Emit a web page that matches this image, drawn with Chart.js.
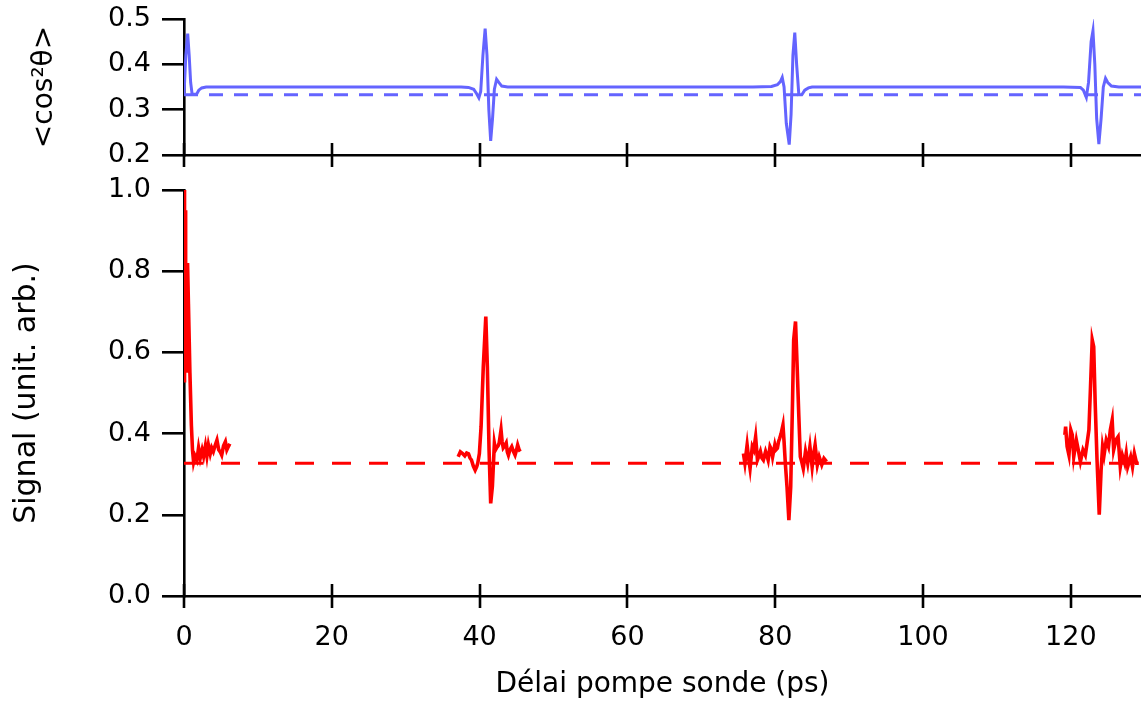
<!DOCTYPE html>
<html>
<head>
<meta charset="utf-8">
<script src="https://cdn.jsdelivr.net/npm/chart.js@4.4.1/dist/chart.umd.min.js"></script>
<style>
  html, body { margin: 0; padding: 0; background: #fff; }
  #wrap { position: relative; width: 1141px; height: 706px; }
  #cosChart { position: absolute; left: 0; top: 0; }
  #sigChart { position: absolute; left: 0; top: 175px; }
</style>
</head>
<body>
<div id="wrap">
  <canvas id="cosChart" width="1141" height="175"></canvas>
  <canvas id="sigChart" width="1141" height="531"></canvas>
</div>
<script>
// <cos^2 theta> (simulation), delay in ps
const cosT = [0, 0.25, 0.5, 0.7, 0.9, 1.1, 1.7, 2.0, 2.4, 3.0,
  37.5, 38.5, 39.2, 39.6, 39.9, 40.15, 40.45, 40.75, 41.0, 41.25, 41.5, 41.75, 42.0, 42.3, 42.6, 43.0, 43.8,
  77, 79.5, 80.3, 80.7, 80.95, 81.2, 81.5, 81.9, 82.15, 82.4, 82.65, 82.9, 83.2, 83.6, 84.0, 84.5, 85,
  119, 121.3, 121.7, 122.1, 122.4, 122.75, 123.0, 123.25, 123.5, 123.8, 124.1, 124.4, 124.7, 125.0, 125.5, 126.5, 129.5];
const cosV = [0.333, 0.42, 0.468, 0.42, 0.36, 0.334, 0.334, 0.343, 0.348, 0.35,
  0.35, 0.349, 0.345, 0.335, 0.326, 0.34, 0.42, 0.479, 0.42, 0.30, 0.231, 0.28, 0.345, 0.367, 0.36, 0.352, 0.35,
  0.35, 0.351, 0.355, 0.362, 0.371, 0.35, 0.27, 0.223, 0.29, 0.42, 0.47, 0.40, 0.333, 0.333, 0.343, 0.348, 0.35,
  0.35, 0.349, 0.343, 0.327, 0.36, 0.45, 0.474, 0.40, 0.28, 0.224, 0.28, 0.35, 0.369, 0.36, 0.352, 0.35, 0.35];
const cosIso = 0.333;

// measured signal, four scans around each revival
const sigT1 = [0.0, 0.04, 0.1, 0.16, 0.22, 0.3, 0.38, 0.48, 0.6, 0.8, 1.0, 1.15, 1.3, 1.5, 1.75, 1.97, 2.2, 2.45, 2.65,
  2.9, 3.1, 3.3, 3.55, 3.75, 3.97, 4.2, 4.46, 4.7, 4.9, 5.1, 5.35, 5.6, 5.8, 6.0, 6.2];
const sigV1 = [0.53, 1.0, 0.53, 0.95, 0.6, 0.82, 0.55, 0.82, 0.72, 0.55, 0.42, 0.36, 0.33, 0.345, 0.335, 0.365, 0.34, 0.36, 0.344,
  0.37, 0.345, 0.372, 0.35, 0.365, 0.356, 0.37, 0.384, 0.36, 0.355, 0.347, 0.37, 0.38, 0.36, 0.368, 0.375];
const sigT2 = [37.1, 37.4, 37.7, 38.0, 38.25, 38.5, 38.7, 38.9, 39.15, 39.4, 39.6, 39.75, 39.97, 40.2, 40.5, 40.84, 41.05, 41.28,
  41.5, 41.73, 42.0, 42.15, 42.3, 42.5, 42.65, 42.9, 43.05, 43.2, 43.4, 43.6, 43.75, 43.9, 44.1, 44.35, 44.6, 44.8, 45.0, 45.15, 45.35, 45.5];
const sigV2 = [0.343, 0.355, 0.351, 0.345, 0.352, 0.35, 0.34, 0.335, 0.32, 0.31, 0.318, 0.327, 0.351, 0.417, 0.565, 0.688, 0.565, 0.36,
  0.228, 0.27, 0.376, 0.36, 0.365, 0.37, 0.377, 0.409, 0.38, 0.365, 0.37, 0.377, 0.355, 0.347, 0.36, 0.368, 0.355, 0.347, 0.36, 0.372, 0.36, 0.356];
const sigT3 = [75.7, 75.9, 76.2, 76.4, 76.6, 76.9, 77.1, 77.35, 77.6, 77.8, 78.0, 78.2, 78.4, 78.7, 78.9, 79.05, 79.3, 79.5, 79.65,
  79.95, 80.1, 80.3, 80.45, 80.6, 80.8, 81.05, 81.2, 81.37, 81.6, 81.85, 82.1, 82.35, 82.5, 82.75, 82.97, 83.2, 83.4, 83.6, 83.8,
  84.1, 84.4, 84.7, 85.0, 85.2, 85.4, 85.7, 85.95, 86.3, 86.6, 86.95];
const sigV3 = [0.351, 0.327, 0.372, 0.34, 0.314, 0.368, 0.36, 0.392, 0.335, 0.345, 0.356, 0.34, 0.335, 0.356, 0.345, 0.335, 0.368, 0.36, 0.343,
  0.372, 0.36, 0.364, 0.38, 0.388, 0.40, 0.421, 0.38, 0.327, 0.269, 0.187, 0.269, 0.483, 0.631, 0.676, 0.565, 0.442, 0.343, 0.33, 0.314,
  0.356, 0.327, 0.368, 0.318, 0.35, 0.372, 0.323, 0.343, 0.323, 0.339, 0.331];
const sigT4 = [119.2, 119.3, 119.5, 119.75, 120.0, 120.2, 120.4, 120.75, 121.05, 121.3, 121.65, 121.97, 122.2, 122.45, 122.67, 122.9,
  123.1, 123.3, 123.55, 123.85, 124.1, 124.3, 124.5, 124.8, 125.1, 125.35, 125.6, 125.8, 126.1, 126.4, 126.7, 126.97, 127.3,
  127.5, 127.7, 128.1, 128.35, 128.6, 128.9, 129.2];
const sigV4 = [0.397, 0.417, 0.368, 0.347, 0.409, 0.397, 0.343, 0.384, 0.356, 0.331, 0.36, 0.347, 0.376, 0.409, 0.516, 0.631,
  0.614, 0.475, 0.335, 0.2, 0.31, 0.368, 0.347, 0.384, 0.368, 0.409, 0.433, 0.36, 0.384, 0.392, 0.318, 0.347, 0.327,
  0.351, 0.318, 0.343, 0.318, 0.351, 0.327, 0.327];
const sigBase = 0.327;

const xTicks = [0, 20, 40, 60, 80, 100, 120];
const cosTicks = [0.2, 0.3, 0.4, 0.5];
const sigTicks = [0, 0.2, 0.4, 0.6, 0.8, 1.0];
const xMin = 0, xMax = 129.5;

const FONT = "'DejaVu Sans', 'Liberation Sans', Arial, sans-serif";
const BLUE = '#6464ff';
const RED = '#ff0000';

function pts(t, v) { return t.map((x, i) => ({ x: x, y: v[i] })); }

// segments joined with a gap so the line breaks between scans
const sigData = [].concat(
  pts(sigT1, sigV1), [{ x: 20, y: null }],
  pts(sigT2, sigV2), [{ x: 60, y: null }],
  pts(sigT3, sigV3), [{ x: 100, y: null }],
  pts(sigT4, sigV4)
);

// x ticks that cross the axis line
const crossTicks = {
  id: 'crossTicks',
  afterDraw(chart) {
    const xs = chart.scales.x;
    const y0 = chart.chartArea.bottom;
    const c = chart.ctx;
    c.save();
    c.strokeStyle = '#000';
    c.lineWidth = 2.6;
    xs.ticks.forEach(t => {
      const px = Math.round(xs.getPixelForValue(t.value));
      c.beginPath();
      c.moveTo(px, y0 - 12);
      c.lineTo(px, y0 + 12);
      c.stroke();
    });
    c.restore();
  }
};

function xAxis(showLabels, height) {
  return {
    type: 'linear', min: xMin, max: xMax,
    afterBuildTicks: s => { s.ticks = xTicks.map(v => ({ value: v })); },
    afterFit: s => { s.height = height; },
    grid: { display: true, drawOnChartArea: false, drawTicks: false },
    border: { display: true, color: '#000', width: 2.6 },
    ticks: {
      display: showLabels, padding: 26, color: '#000',
      font: { family: FONT, size: 27 },
      maxRotation: 0, autoSkip: false
    },
    title: {
      display: showLabels, text: 'Délai pompe sonde (ps)', color: '#000',
      font: { family: FONT, size: 28 }, padding: { top: 0, bottom: 4 }
    }
  };
}

function yAxis(min, max, ticks, title, titleSize, titlePad, decimals) {
  return {
    type: 'linear', min: min, max: max,
    afterBuildTicks: s => { s.ticks = ticks.map(v => ({ value: v })); },
    afterFit: s => { s.width = 184; s.paddingTop = 0; s.paddingBottom = 0; },
    grid: { display: true, drawOnChartArea: false, drawTicks: true, tickLength: 22, color: '#000', lineWidth: 2.6 },
    border: { display: true, color: '#000', width: 2.6 },
    ticks: {
      padding: 11, color: '#000', font: { family: FONT, size: 27 },
      callback: v => Number(v).toFixed(decimals)
    },
    title: {
      display: true, text: title, color: '#000',
      font: { family: FONT, size: titleSize }, padding: { top: titlePad, bottom: 0 }
    }
  };
}

const common = {
  responsive: false,
  animation: false,
  devicePixelRatio: 1,
  plugins: { legend: { display: false }, tooltip: { enabled: false } },
  elements: { point: { radius: 0 }, line: { tension: 0 } }
};

new Chart(document.getElementById('cosChart').getContext('2d'), {
  type: 'line',
  data: {
    datasets: [
      { data: pts(cosT, cosV), borderColor: BLUE, borderWidth: 3, order: 0 },
      { data: [{ x: xMin, y: cosIso }, { x: xMax, y: cosIso }], borderColor: BLUE, borderWidth: 3, borderDash: [14, 11], order: 1 }
    ]
  },
  options: Object.assign({}, common, {
    layout: { padding: { top: 19, right: 0, left: 0, bottom: 0 } },
    scales: {
      x: xAxis(false, 20),
      y: yAxis(0.2, 0.5, cosTicks, '<cos²θ>', 28, 28, 1)
    }
  }),
  plugins: [crossTicks]
});

new Chart(document.getElementById('sigChart').getContext('2d'), {
  type: 'line',
  data: {
    datasets: [
      { data: sigData, borderColor: RED, borderWidth: 3.6, spanGaps: false, order: 0 },
      { data: [{ x: xMin, y: sigBase }, { x: xMax, y: sigBase }], borderColor: RED, borderWidth: 3, borderDash: [19, 18], order: 1 }
    ]
  },
  options: Object.assign({}, common, {
    layout: { padding: { top: 15, right: 0, left: 0, bottom: 0 } },
    scales: {
      x: xAxis(true, 110),
      y: yAxis(0, 1, sigTicks, 'Signal (unit. arb.)', 30, 9, 1)
    }
  }),
  plugins: [crossTicks]
});
</script>
</body>
</html>
